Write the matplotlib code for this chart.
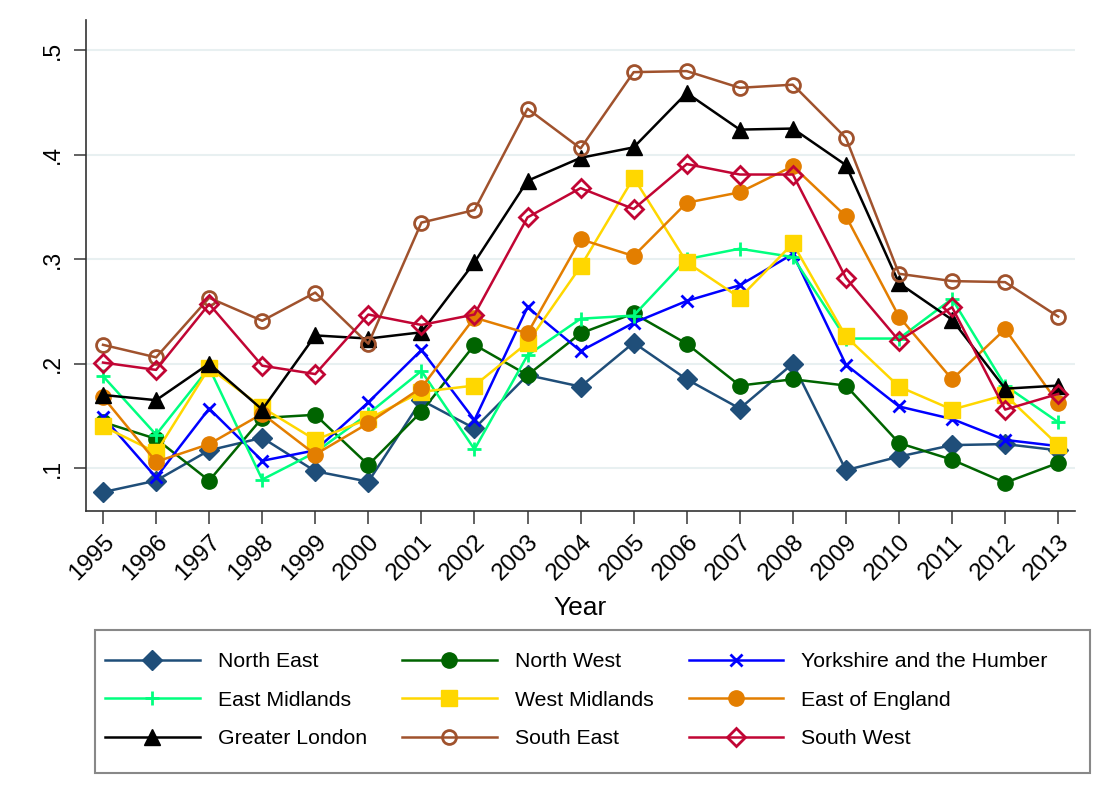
import matplotlib
matplotlib.use("Agg")
import matplotlib.pyplot as plt
from matplotlib.patches import Rectangle

plt.rcParams['font.family'] = ['Liberation Sans', 'DejaVu Sans']

years = list(range(1995, 2014))

north_east = [0.077, 0.088, 0.117, 0.129, 0.097, 0.087, 0.165, 0.138, 0.189, 0.178,
              0.220, 0.185, 0.157, 0.200, 0.098, 0.111, 0.122, 0.123, 0.117]
north_west = [0.144, 0.128, 0.088, 0.148, 0.151, 0.103, 0.154, 0.218, 0.189, 0.229,
              0.248, 0.219, 0.179, 0.185, 0.179, 0.124, 0.108, 0.086, 0.105]
yorkshire = [0.149, 0.091, 0.157, 0.107, 0.117, 0.163, 0.213, 0.146, 0.254, 0.212,
             0.239, 0.260, 0.275, 0.305, 0.199, 0.159, 0.147, 0.127, 0.121]
east_midlands = [0.188, 0.132, 0.196, 0.089, 0.115, 0.152, 0.193, 0.118, 0.208, 0.243,
                 0.246, 0.300, 0.310, 0.302, 0.224, 0.224, 0.262, 0.179, 0.144]
west_midlands = [0.140, 0.115, 0.196, 0.158, 0.127, 0.147, 0.173, 0.179, 0.220, 0.293,
                 0.378, 0.297, 0.263, 0.315, 0.226, 0.178, 0.156, 0.170, 0.122]
east_england = [0.168, 0.106, 0.123, 0.152, 0.113, 0.143, 0.177, 0.244, 0.229, 0.319,
                0.303, 0.354, 0.364, 0.389, 0.341, 0.245, 0.185, 0.233, 0.162]
greater_london = [0.170, 0.165, 0.200, 0.156, 0.227, 0.224, 0.230, 0.297, 0.375, 0.397,
                  0.407, 0.459, 0.424, 0.425, 0.390, 0.277, 0.242, 0.176, 0.179]
south_east = [0.218, 0.206, 0.263, 0.241, 0.268, 0.219, 0.335, 0.347, 0.444, 0.406,
              0.479, 0.480, 0.464, 0.467, 0.416, 0.286, 0.279, 0.278, 0.245]
south_west = [0.201, 0.194, 0.257, 0.198, 0.190, 0.247, 0.237, 0.247, 0.340, 0.368,
              0.348, 0.391, 0.381, 0.381, 0.282, 0.222, 0.254, 0.156, 0.171]

y_ticks = [0.1, 0.2, 0.3, 0.4, 0.5]
y_tick_labels = [".1", ".2", ".3", ".4", ".5"]

fig = plt.figure(figsize=(10.96, 7.96), dpi=100)
ax = fig.add_axes([0.0785, 0.358, 0.9025, 0.617])

lw = 1.8
series = [
    ("North East", north_east, dict(color="#1f4e79", marker="D", ms=10, mfc="#1f4e79")),
    ("North West", north_west, dict(color="#006400", marker="o", ms=11, mfc="#006400")),
    ("Yorkshire and the Humber", yorkshire, dict(color="#0000ff", marker="x", ms=8, mew=2)),
    ("East Midlands", east_midlands, dict(color="#00ff7f", marker="+", ms=10, mew=2)),
    ("West Midlands", west_midlands, dict(color="#ffd700", marker="s", ms=11, mfc="#ffd700")),
    ("East of England", east_england, dict(color="#e37e00", marker="o", ms=11, mfc="#e37e00")),
    ("Greater London", greater_london, dict(color="#000000", marker="^", ms=11, mfc="#000000")),
    ("South East", south_east, dict(color="#a0522d", marker="o", ms=10, mfc="none", mew=2)),
    ("South West", south_west, dict(color="#c10534", marker="D", ms=9, mfc="none", mew=2)),
]

handles = {}
for name, vals, style in series:
    line, = ax.plot(years, vals, lw=lw, label=name, **style)
    handles[name] = line

ax.set_xlim(1994.68, 2013.32)
ax.set_ylim(0.0589, 0.529)
ax.set_xticks(years)
ax.set_xticklabels([str(y) for y in years], rotation=45, ha="right",
                   rotation_mode="anchor", fontsize=17.5)
ax.set_yticks(y_ticks)
ax.set_yticklabels(y_tick_labels, rotation=90, va="center", fontsize=16.5)
ax.tick_params(axis="both", direction="out", length=9, width=1.3, color="#555555")
ax.tick_params(axis="y", pad=7)
ax.tick_params(axis="x", pad=5)

ax.grid(axis="y", color="#e8f0f1", lw=1.5)
ax.set_axisbelow(True)
for side in ("top", "right"):
    ax.spines[side].set_visible(False)
for side in ("left", "bottom"):
    ax.spines[side].set_color("#333333")
    ax.spines[side].set_linewidth(1.2)

ax.set_xlabel("Year", fontsize=19, labelpad=8)

# Legend box drawn separately so its padding can be set independently
fig.patches.append(Rectangle((0.0867, 0.029), 0.9078, 0.1795, transform=fig.transFigure,
                             facecolor="white", edgecolor="#888888", lw=1.5, zorder=0))

order = ["North East", "East Midlands", "Greater London",
         "North West", "West Midlands", "South East",
         "Yorkshire and the Humber", "East of England", "South West"]
leg = fig.legend([handles[n] for n in order], order, ncol=3,
                 loc="center left", bbox_to_anchor=(0.0958, 0.1205, 0.860, 0.0),
                 mode="expand", borderaxespad=0, borderpad=0, fontsize=15.3,
                 handlelength=4.45, handletextpad=0.85, labelspacing=0.92,
                 frameon=False)

fig.savefig("out.png", dpi=100, facecolor="white")
